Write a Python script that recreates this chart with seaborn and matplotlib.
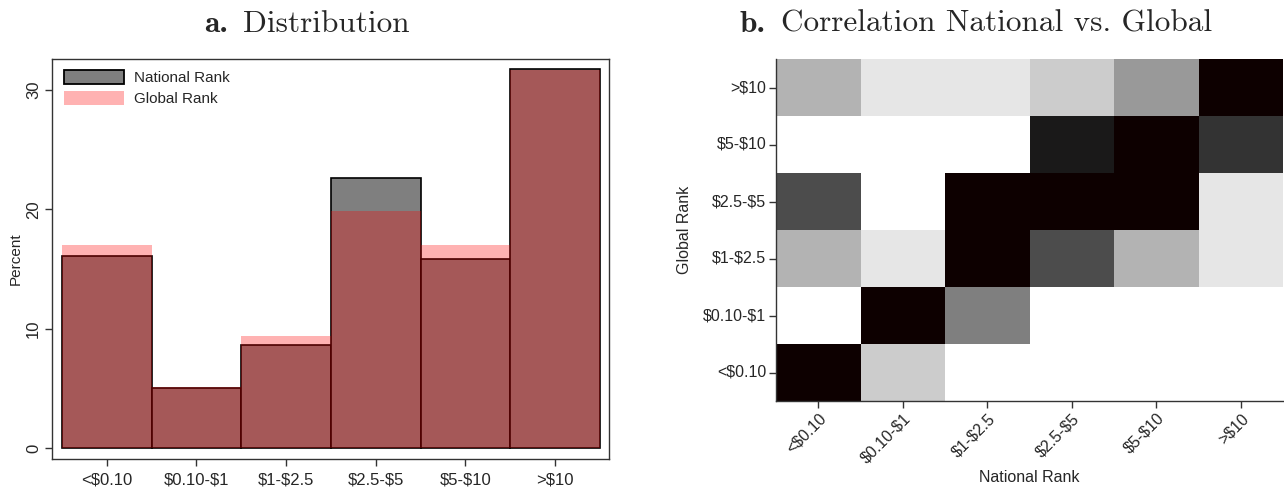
import numpy as np
import pandas as pd
import matplotlib
matplotlib.use("Agg")
import matplotlib.pyplot as plt
import seaborn as sns
from matplotlib.colors import LinearSegmentedColormap
from matplotlib.patches import Patch

# ---------------- data ----------------
categories = ['<$0.10', '$0.10-$1', '$1-$2.5', '$2.5-$5', '$5-$10', '>$10']
national_pct = [16.1, 5.0, 8.6, 22.6, 15.8, 31.8]
global_pct = [17.0, 5.1, 9.35, 19.9, 17.05, 31.7]

global_rank_rows = ['>$10', '$5-$10', '$2.5-$5', '$1-$2.5', '$0.10-$1', '<$0.10']
national_rank_cols = ['<$0.10', '$0.10-$1', '$1-$2.5', '$2.5-$5', '$5-$10', '>$10']
corr_intensity = [
    [0.30, 0.10, 0.10, 0.20, 0.40, 1.00],
    [0.00, 0.00, 0.00, 0.90, 1.00, 0.80],
    [0.70, 0.00, 1.00, 1.00, 1.00, 0.10],
    [0.30, 0.10, 1.00, 0.70, 0.30, 0.10],
    [0.00, 1.00, 0.50, 0.00, 0.00, 0.00],
    [1.00, 0.20, 0.00, 0.00, 0.00, 0.00],
]
y_ticks = [0, 10, 20, 30]

# ---------------- style ----------------
sns.set_style("ticks")
plt.rcParams['font.family'] = ['Liberation Sans', 'DejaVu Sans']
plt.rcParams['text.parse_math'] = False

W, H = 1284, 487
fig = plt.figure(figsize=(W / 100, H / 100), dpi=100)

def fx(px):
    return px / W

def fy(py):
    return 1 - py / H

edge_col = '#333333'

# ---------------- panel a ----------------
ax1 = fig.add_axes([fx(52), fy(459), fx(609 - 52), (459 - 59) / H])
df_bar = pd.DataFrame({'cat': categories, 'nat': national_pct, 'glob': global_pct})
sns.barplot(data=df_bar, x='cat', y='nat', order=categories, color='#7f7f7f',
            saturation=1, width=1.0, edgecolor='black', linewidth=1.2, ax=ax1)
sns.barplot(data=df_bar, x='cat', y='glob', order=categories, color='red',
            saturation=1, width=1.0, alpha=0.3, edgecolor='none', linewidth=0, ax=ax1)
ax1.set_xlim(-0.61, 5.6)
ax1.set_ylim(-0.92, 32.6)
ax1.set_yticks(y_ticks)
ax1.set_yticklabels([str(t) for t in y_ticks], rotation=90, va='center')
ax1.set_xlabel('')
ax1.set_ylabel('Percent', fontsize=11, labelpad=2)
ax1.tick_params(axis='both', labelsize=12, length=5, width=1, color=edge_col, pad=3)
ax1.tick_params(axis='x', pad=5)
for s in ax1.spines.values():
    s.set_visible(True)
    s.set_color(edge_col)
    s.set_linewidth(1)

handles = [Patch(facecolor='#7f7f7f', edgecolor='black', linewidth=1.3),
           Patch(facecolor=(1, 0, 0, 0.3), edgecolor='none')]
fig.legend(handles, ['National Rank', 'Global Rank'], loc='upper left',
           bbox_to_anchor=(fx(64), fy(70)), bbox_transform=fig.transFigure,
           frameon=False, borderpad=0, borderaxespad=0, fontsize=11,
           handlelength=3.9, handleheight=1.05, handletextpad=0.65, labelspacing=0.35)

# ---------------- panel b ----------------
ax2 = fig.add_axes([fx(776), fy(401), fx(1283 - 776), (401 - 59) / H])
df_hm = pd.DataFrame(corr_intensity, index=global_rank_rows, columns=national_rank_cols)
cmap = LinearSegmentedColormap.from_list(
    'wk', [(0.0, '#ffffff'), (0.9, '#1a1a1a'), (1.0, '#0d0000')])
sns.heatmap(df_hm, cmap=cmap, vmin=0, vmax=1, cbar=False, ax=ax2)
ax2.set_xticklabels(national_rank_cols, rotation=45, ha='right', va='top',
                    rotation_mode='anchor', fontsize=11.5)
ax2.set_yticklabels(global_rank_rows, rotation=0, fontsize=11.5)
ax2.set_xlabel('National Rank', fontsize=11.5, labelpad=3)
ax2.set_ylabel('Global Rank', fontsize=11.5, labelpad=8)
ax2.tick_params(axis='both', length=5, width=1, color=edge_col, pad=2)
for side in ['left', 'bottom']:
    ax2.spines[side].set_visible(True)
    ax2.spines[side].set_color(edge_col)
    ax2.spines[side].set_linewidth(1)
for side in ['right', 'top']:
    ax2.spines[side].set_visible(False)

# ---------------- titles ----------------
renderer = fig.canvas.get_renderer()

def two_part_title(cx, base_y, bold, rest, fs, gap_px):
    t1 = fig.text(0, fy(base_y), bold, family='cmb10', fontsize=fs,
                  va='baseline', ha='left')
    t2 = fig.text(0, fy(base_y), rest, family='cmr10', fontsize=fs,
                  va='baseline', ha='left')
    w1 = t1.get_window_extent(renderer).width
    w2 = t2.get_window_extent(renderer).width
    x0 = cx - (w1 + gap_px + w2) / 2
    t1.set_x(fx(x0))
    t2.set_x(fx(x0 + w1 + gap_px))

two_part_title(307, 32, 'a.', 'Distribution', 22.5, 15)
two_part_title(976, 32, 'b.', 'Correlation National vs. Global', 22.5, 15)

fig.savefig('out.png', dpi=100)
